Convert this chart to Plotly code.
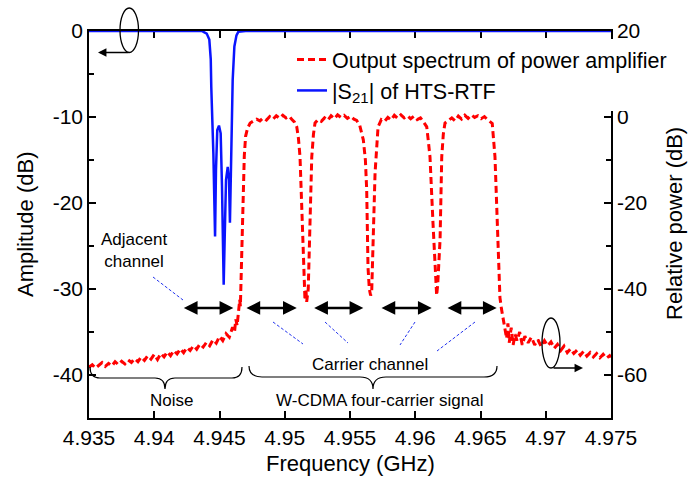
import plotly.graph_objects as go

# ---------------- data ----------------
# |S21| of HTS-RTF (left axis, dB)
s21_freq = [4.9350, 4.9400, 4.9430, 4.94364, 4.94402, 4.94422, 4.94433, 4.94437, 4.94453,
            4.94460, 4.94466, 4.94473, 4.94483, 4.94496, 4.94509, 4.94519, 4.94529,
            4.94532, 4.94540, 4.94550, 4.94563, 4.94573, 4.94580, 4.94586, 4.94594,
            4.94601, 4.94614, 4.94630, 4.94644, 4.9470, 4.9550, 4.9650, 4.9750]
s21_db = [0, 0, 0, 0, -0.3, -1.0, -3.3, -6.5, -14.2,
          -22.0, -23.9, -16.2, -11.5, -11.0, -11.9, -18.0, -25.8,
          -29.5, -23.9, -17.3, -15.8, -17.3, -22.3, -18.0, -10.3,
          -5.7, -1.8, -0.5, -0.1, 0, 0, 0, 0]

# Output spectrum of power amplifier (right axis, relative power dB)
pa_freq = [
    4.93500, 4.93525, 4.93550, 4.93575, 4.93600, 4.93625, 4.93650, 4.93675, 4.93700, 4.93725,
    4.93750, 4.93775, 4.93800, 4.93825, 4.93850, 4.93875, 4.93900, 4.93925, 4.93950, 4.93975,
    4.94000, 4.94025, 4.94050, 4.94075, 4.94100, 4.94125, 4.94150, 4.94175, 4.94200, 4.94225,
    4.94250, 4.94275, 4.94300, 4.94325, 4.94350, 4.94375, 4.94400, 4.94425, 4.94450, 4.94475,
    4.94500, 4.94525, 4.94550, 4.94575, 4.94600, 4.94615, 4.94625, 4.94635, 4.94645, 4.94655,
    4.94660, 4.94665, 4.94672, 4.94680, 4.94690, 4.94700, 4.94715, 4.94735, 4.94760, 4.94785,
    4.94810, 4.94835, 4.94860, 4.94885, 4.94910, 4.94935, 4.94960, 4.94985, 4.95010, 4.95035,
    4.95055, 4.95075, 4.95092, 4.95105, 4.95117, 4.95130, 4.95142, 4.95150, 4.95155, 4.95162,
    4.95168, 4.95180, 4.95193, 4.95207, 4.95220, 4.95232, 4.95255, 4.95280, 4.95305, 4.95330,
    4.95355, 4.95380, 4.95405, 4.95430, 4.95455, 4.95480, 4.95505, 4.95530, 4.95551, 4.95575,
    4.95602, 4.95618, 4.95628, 4.95638, 4.95648, 4.95658, 4.95666, 4.95676, 4.95692, 4.95715,
    4.95740, 4.95765, 4.95790, 4.95815, 4.95840, 4.95865, 4.95890, 4.95915, 4.95940, 4.95965,
    4.95990, 4.96015, 4.96040, 4.96060, 4.96075, 4.96088, 4.96100, 4.96113, 4.96136, 4.96151,
    4.96158, 4.96164, 4.96172, 4.96190, 4.96203, 4.96215, 4.96228, 4.96255, 4.96280, 4.96305,
    4.96330, 4.96355, 4.96380, 4.96405, 4.96430, 4.96455, 4.96480, 4.96505, 4.96530, 4.96550,
    4.96570, 4.96590, 4.96611, 4.96624, 4.96636, 4.96649, 4.96660, 4.96670, 4.96680, 4.96690,
    4.96700, 4.96710, 4.96720, 4.96735, 4.96750, 4.96765, 4.96780, 4.96800, 4.96820, 4.96840,
    4.96865, 4.96890, 4.96915, 4.96940, 4.96965, 4.96990, 4.97015, 4.97040, 4.97065, 4.97090,
    4.97115, 4.97140, 4.97165, 4.97190, 4.97215, 4.97240, 4.97265, 4.97290, 4.97315, 4.97340,
    4.97365, 4.97390, 4.97415, 4.97440, 4.97465, 4.97490, 4.97500]
pa_db = [
    -58.2, -57.6, -58.4, -57.8, -57.1, -58.0, -57.3, -57.9, -56.9, -57.6,
    -56.8, -57.4, -56.5, -57.1, -56.2, -56.9, -55.8, -56.6, -55.5, -56.3,
    -55.2, -56.4, -55.0, -55.8, -54.6, -55.5, -54.3, -55.1, -53.9, -54.8,
    -53.6, -54.3, -53.2, -54.0, -52.8, -53.5, -52.4, -53.2, -51.8, -52.6,
    -51.0, -52.0, -50.4, -51.2, -48.9, -50.0, -47.0, -48.5, -45.0, -42.5,
    -44.0, -38.0, -28.0, -16.0, -9.0, -4.5, -2.6, -1.4, -0.9, -0.5,
    -0.9, -0.2, -0.7, 0.1, -0.5, 0.3, -0.3, 0.4, -0.2, 0.2,
    -0.6, -1.2, -2.3, -5.0, -9.3, -21.0, -32.6, -39.0, -42.6, -40.0,
    -43.0, -40.0, -24.7, -9.3, -4.0, -1.4, -0.6, -1.0, -0.2, -0.8,
    0.3, -0.4, 0.5, -0.1, 0.4, -0.3, 0.2, -0.5, -0.8, -2.0,
    -5.3, -10.0, -17.0, -35.0, -40.0, -41.5, -41.0, -28.6, -13.0, -2.3,
    -0.6, -1.0, -0.1, -0.7, 0.4, -0.3, 0.5, -0.2, 0.3, -0.4,
    0.2, -0.6, -0.2, -1.0, -1.6, -2.3, -5.5, -9.3, -24.7, -36.0,
    -40.0, -41.5, -39.0, -28.6, -9.3, -4.0, -1.4, -0.8, -0.2, -0.9,
    0.2, -0.5, 0.4, -0.3, 0.5, -0.1, 0.3, -0.4, 0.1, -0.5,
    -1.0, -1.5, -9.3, -21.0, -32.6, -42.0, -44.5, -46.5, -48.0, -49.5,
    -51.5, -48.0, -52.5, -49.0, -53.0, -50.5, -52.0, -50.0, -53.0, -51.0,
    -52.5, -51.2, -53.0, -51.8, -53.4, -52.0, -53.2, -52.3, -53.8, -52.9,
    -54.3, -53.3, -54.8, -53.9, -55.0, -54.2, -55.4, -54.5, -55.6, -54.8,
    -55.8, -55.0, -56.0, -55.2, -56.1, -55.5, -55.9]

x_ticks = [4.935, 4.94, 4.945, 4.95, 4.955, 4.96, 4.965, 4.97, 4.975]
x_ticktext = ["4.935", "4.94", "4.945", "4.95", "4.955", "4.96", "4.965", "4.97", "4.975"]
yl_ticks = [0, -10, -20, -30, -40]
yl_ticktext = ["0", "-10", "-20", "-30", "-40"]
yr_ticks = [20, 0, -20, -40, -60]
yr_ticktext = ["20", "0", "-20", "-40", "-60"]

# channel arrows (start, end in GHz) at amplitude level
arrow_start = [4.94215, 4.94695, 4.95214, 4.95730, 4.96236]
arrow_end = [4.94606, 4.95092, 4.95602, 4.96126, 4.96624]
arrow_level = -32.2

# ---------------- geometry helpers ----------------
PL, PR, PT, PB = 89, 611, 31, 418
W, H = 688, 486


def px(x):
    return (x - PL) / (PR - PL)


def py(y):
    return (PB - y) / (PB - PT)


FONT = "Liberation Sans, Arial, Helvetica, sans-serif"

fig = go.Figure()
fig.add_trace(go.Scatter(
    x=pa_freq, y=pa_db, yaxis="y2", mode="lines",
    name="Output spectrum of power amplifier",
    line=dict(color="#ff0000", width=3, dash="7px,4px")))
fig.add_trace(go.Scatter(
    x=s21_freq, y=s21_db, mode="lines",
    name="|S<sub>21</sub>| of HTS-RTF",
    line=dict(color="#0a14ff", width=2.5)))

shapes = []
annotations = []

# channel arrows
for s, e in zip(arrow_start, arrow_end):
    annotations.append(dict(x=e, y=arrow_level, ax=s, ay=arrow_level,
                            xref="x", yref="y", axref="x", ayref="y",
                            text="", showarrow=True, arrowhead=2, startarrowhead=2,
                            arrowside="end+start", arrowsize=1.1, startarrowsize=1.1,
                            arrowwidth=2.5, arrowcolor="black"))

# blue dashed leader lines
leaders = [((153, 277), (183, 300)),
           ((273, 322), (303, 344)),
           ((325, 322), (348, 343)),
           ((415, 322), (400, 345)),
           ((475, 322), (437, 351))]
for (x0, y0), (x1, y1) in leaders:
    shapes.append(dict(type="line", xref="paper", yref="paper",
                       x0=px(x0), y0=py(y0), x1=px(x1), y1=py(y1),
                       line=dict(color="#2233ee", width=1, dash="3px,2px")))


def brace(xl, xc, xr, ytop, yline, ytip, r=10):
    pts = [("M", xl, ytop), ("Q", xl, yline, xl + r, yline), ("L", xc - r, yline),
           ("Q", xc, yline, xc, ytip), ("Q", xc, yline, xc + r, yline),
           ("L", xr - r, yline), ("Q", xr, yline, xr, ytop)]
    out = []
    for p in pts:
        cmd = p[0]
        coords = p[1:]
        s = cmd + " " + " ".join(
            f"{px(coords[i]):.5f},{py(coords[i + 1]):.5f}" for i in range(0, len(coords), 2))
        out.append(s)
    return " ".join(out)


shapes.append(dict(type="path", xref="paper", yref="paper",
                   path=brace(90, 165, 242, 367, 378, 389),
                   line=dict(color="black", width=1.2)))
shapes.append(dict(type="path", xref="paper", yref="paper",
                   path=brace(249, 373, 497, 366, 377, 389, r=13),
                   line=dict(color="black", width=1.2)))

# rotation symbols (ellipses)
shapes.append(dict(type="circle", xref="paper", yref="paper",
                   x0=px(120), x1=px(138.5), y0=py(52.5), y1=py(8),
                   line=dict(color="black", width=1.3)))
shapes.append(dict(type="circle", xref="paper", yref="paper",
                   x0=px(542), x1=px(560), y0=py(368), y1=py(318),
                   line=dict(color="black", width=1.3)))
annotations.append(dict(x=px(98), y=py(52.5), ax=32, ay=0, xref="paper", yref="paper",
                        text="", showarrow=True, arrowhead=2, arrowsize=1.3,
                        arrowwidth=1.3, arrowcolor="black"))
annotations.append(dict(x=px(583), y=py(368), ax=-31, ay=0, xref="paper", yref="paper",
                        text="", showarrow=True, arrowhead=2, arrowsize=1.3,
                        arrowwidth=1.3, arrowcolor="black"))

# texts
def txt(t, x, y, size, angle=0):
    return dict(text=t, x=px(x), y=py(y), xref="paper", yref="paper", showarrow=False,
                xanchor="center", yanchor="middle", textangle=angle,
                font=dict(family=FONT, size=size, color="black"))


annotations += [
    txt("Adjacent<br>channel", 134, 250, 17),
    txt("Carrier channel", 370, 364, 17),
    txt("Noise", 171, 400, 17),
    txt("W-CDMA four-carrier signal", 380, 400, 17),
    txt("Amplitude (dB)", 26, 224, 22, -90),
    txt("Relative power (dB)", 675, 224, 22, -90),
    txt("Frequency (GHz)", 350, 463, 22),
]

fig.update_layout(
    width=W, height=H,
    margin=dict(l=PL, r=W - PR, t=PT, b=H - PB, pad=0),
    paper_bgcolor="white", plot_bgcolor="white",
    font=dict(family=FONT, size=21, color="black"),
    showlegend=True,
    legend=dict(x=px(292), y=py(39), xanchor="left", yanchor="top",
                bgcolor="white", font=dict(family=FONT, size=21.5),
                itemwidth=30, tracegroupgap=0, borderwidth=0),
    xaxis=dict(range=[4.935, 4.975], tickvals=x_ticks, ticktext=x_ticktext,
               ticks="inside", ticklen=7, tickwidth=1.5, tickcolor="black",
               showline=True, linecolor="black", linewidth=1.5, mirror="ticks",
               showgrid=False, zeroline=False, layer="below traces",
               tickfont=dict(size=21)),
    yaxis=dict(range=[-45, 0], tickvals=yl_ticks, ticktext=yl_ticktext,
               ticks="inside", ticklen=7, tickwidth=1.5, tickcolor="black",
               minor=dict(ticks="inside", tickvals=[-5, -15, -25, -35], ticklen=5,
                          tickwidth=1.5, tickcolor="black"),
               showline=True, linecolor="black", linewidth=1.5,
               showgrid=False, zeroline=False, tickfont=dict(size=21)),
    yaxis2=dict(range=[-70, 20], tickvals=yr_ticks, ticktext=yr_ticktext,
                overlaying="y", side="right",
                ticks="inside", ticklen=7, tickwidth=1.5, tickcolor="black",
                minor=dict(ticks="inside", tickvals=[10, -10, -30, -50], ticklen=5,
                           tickwidth=1.5, tickcolor="black"),
                showline=True, linecolor="black", linewidth=1.5,
                showgrid=False, zeroline=False, tickfont=dict(size=21)),
    shapes=shapes, annotations=annotations,
)

fig.write_html("out.html")
